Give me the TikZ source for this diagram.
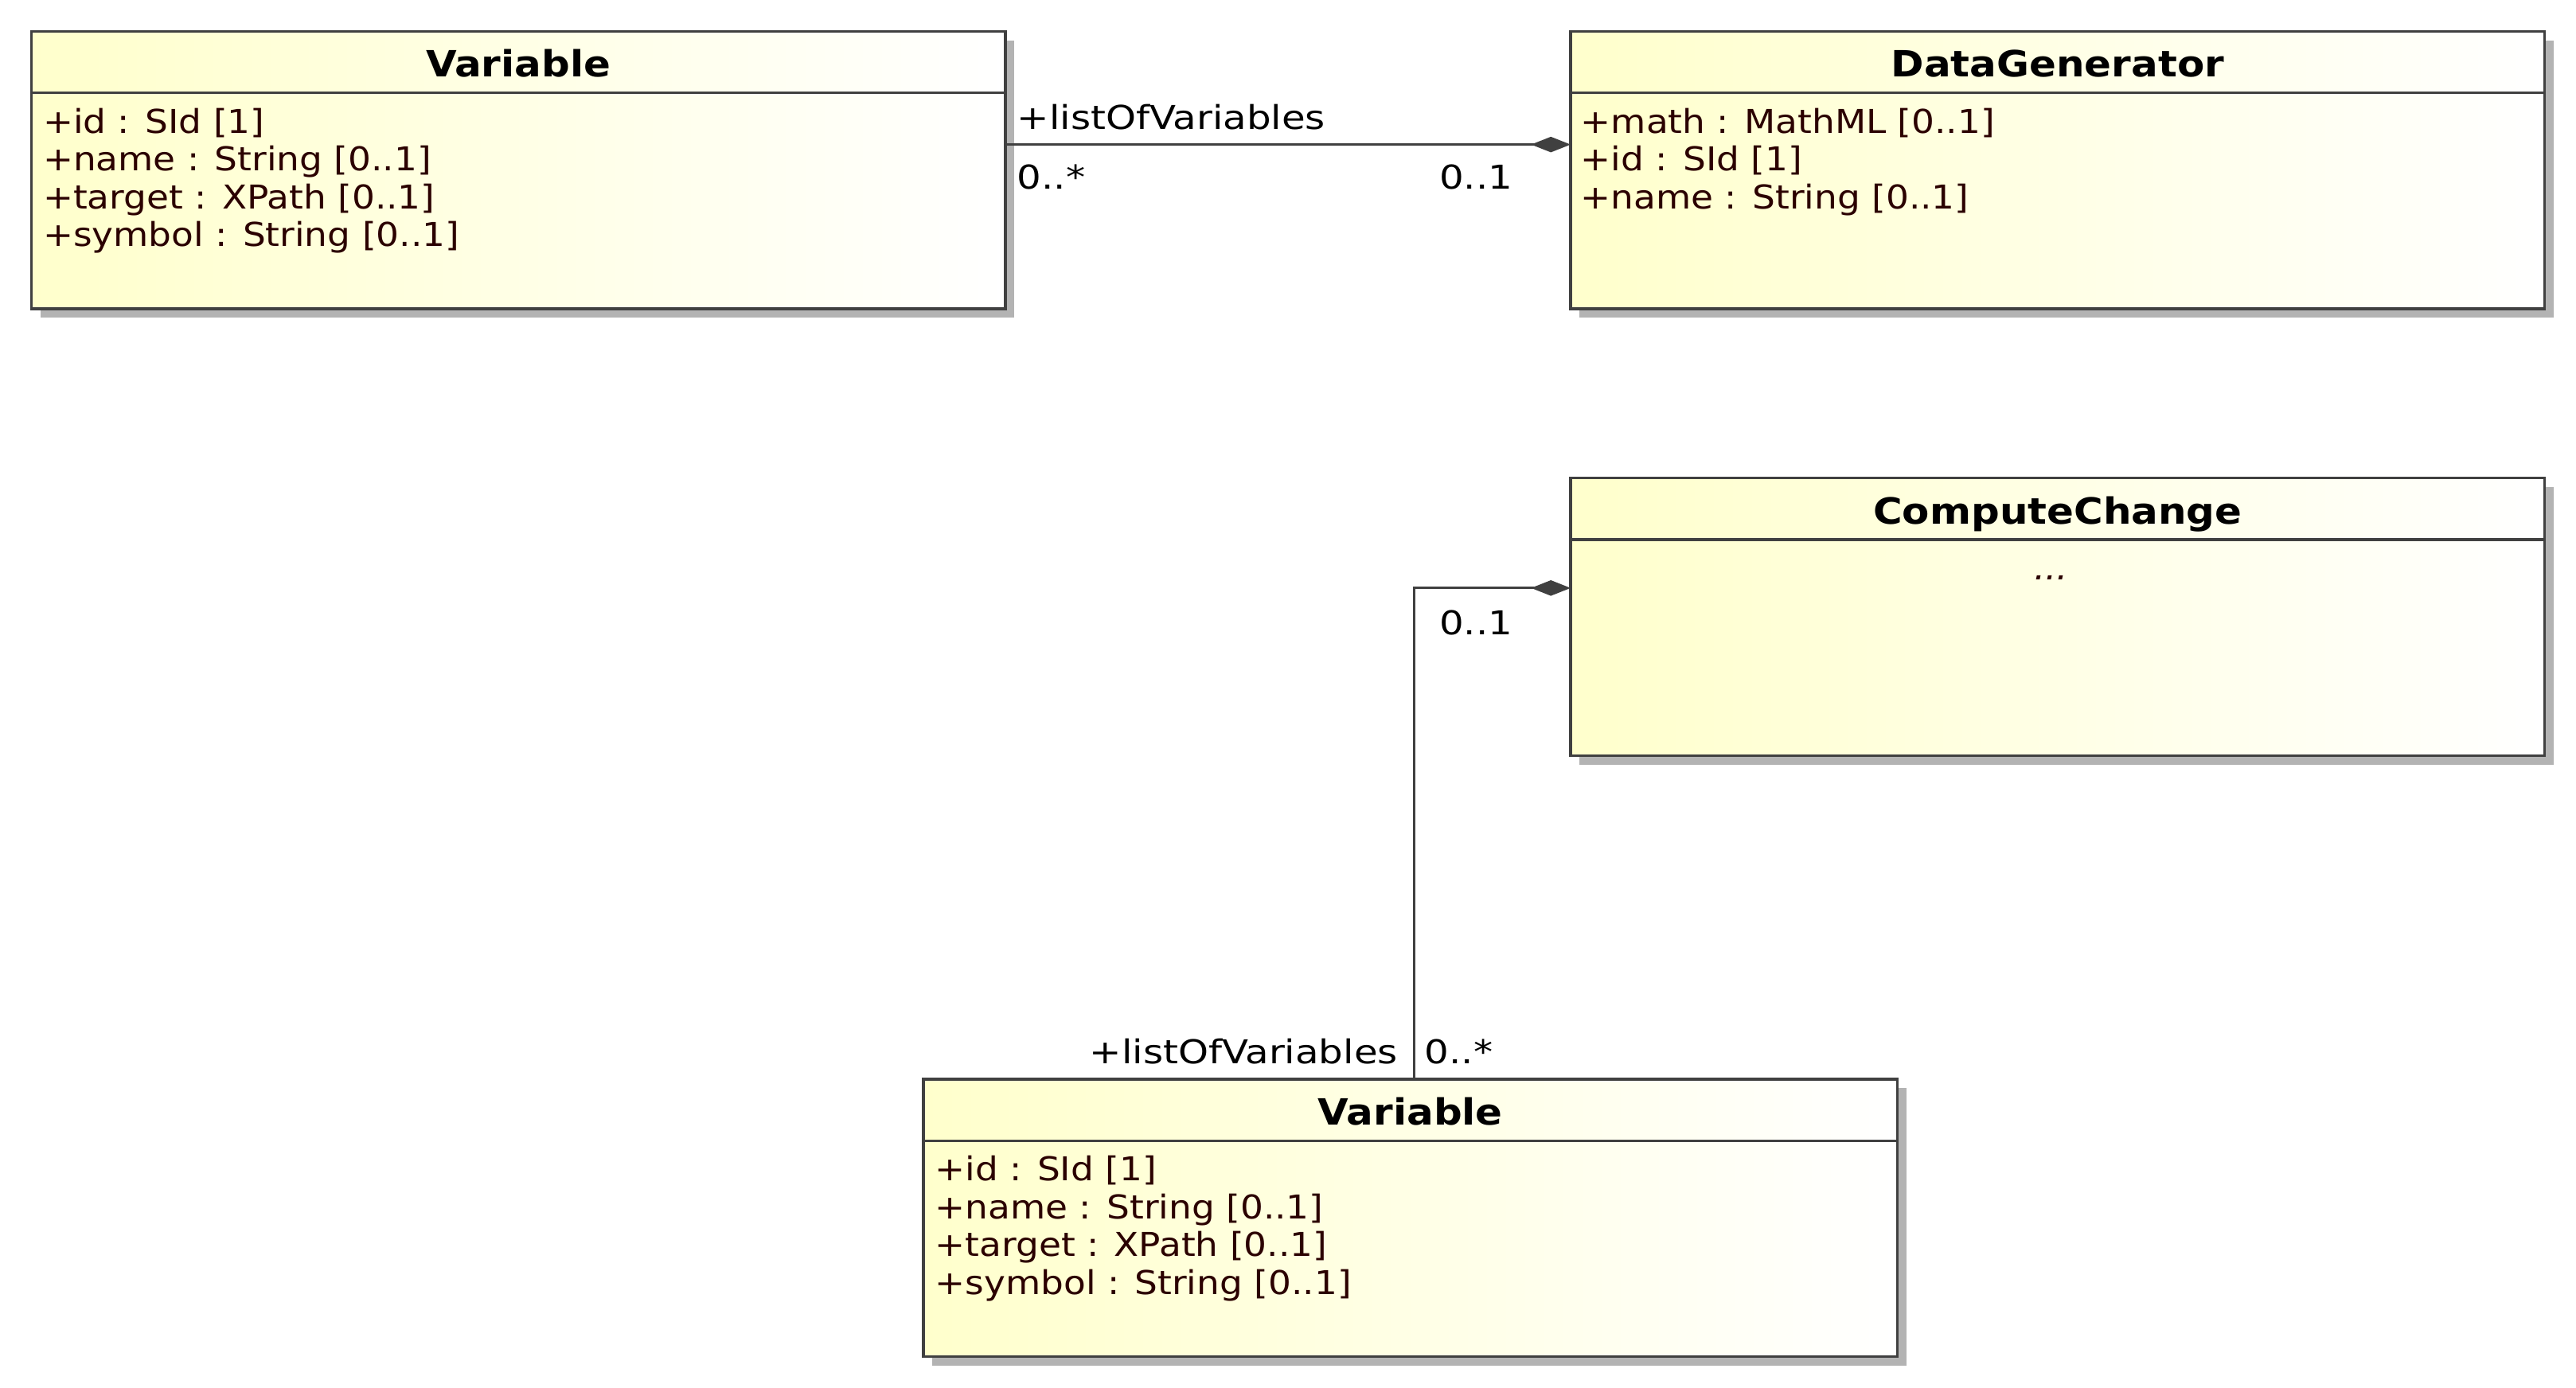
\documentclass[tikz,border=0pt]{standalone}
\usepackage{fontspec}
\usetikzlibrary{arrows.meta,shadows}

\newfontfamily\umlfont{DejaVu Sans}[FakeStretch=1.1]
\newfontfamily\lblfont{DejaVu Sans}[FakeStretch=1.17]

\definecolor{umlline}{HTML}{404040}
\definecolor{umlyellow}{HTML}{FFFFCC}
\definecolor{umlshadow}{HTML}{B3B3B3}
\definecolor{umlattr}{HTML}{2B0000}

\tikzset{
    classbox/.style={draw=umlline, line width=1.6pt, left color=umlyellow, right color=white,
        minimum width=593pt, minimum height=169pt, inner sep=0pt, outer sep=0pt,
        general shadow={fill=umlshadow, shadow xshift=5.5pt, shadow yshift=-5.5pt}},
    divider/.style={draw=umlline, line width=1.6pt},
    classtitle/.style={font=\umlfont\bfseries\fontsize{22}{26}\selectfont, anchor=base, inner sep=0pt},
    attr/.style={font=\umlfont\fontsize{20}{23}\selectfont, text=umlattr, anchor=base west, inner sep=0pt},
    rolelbl/.style={font=\lblfont\fontsize{20}{23}\selectfont, inner sep=0pt},
    assoc/.style={draw=umlline, line width=1.4pt, -{Diamond[length=24pt,width=9.5pt]}}
}

\begin{document}
\begin{tikzpicture}[x=1pt,y=-1pt]
    \useasboundingbox (0,0) rectangle (1568,845);

    % Classes
    \node[classbox] (var1) at (315.5,103.5) {};
    \node[classbox] (datagen) at (1252.5,103.5) {};
    \node[classbox] (compchg) at (1252.5,375.5) {};
    \node[classbox] (var2) at (858.5,741.5) {};

    % Header lines and class names
    \foreach \cls/\name in {var1/Variable, datagen/DataGenerator, compchg/ComputeChange, var2/Variable} {
        \draw[divider] ([yshift=-37.5pt]\cls.north west) -- ([yshift=-37.5pt]\cls.north east);
        \node[classtitle] (\cls-title) at ([yshift=-28pt]\cls.north) {\name};
    }

    % Attributes
    \foreach \txt [count=\i] in {{+id : SId [1]}, {+name : String [0..1]}, {+target : XPath [0..1]}, {+symbol : String [0..1]}} {
        \node[attr] (var1-a\i) at ([xshift=7pt,yshift={-62pt-(\i-1)*23pt}]var1.north west) {\txt};
        \node[attr] (var2-a\i) at ([xshift=7pt,yshift={-62pt-(\i-1)*23pt}]var2.north west) {\txt};
    }
    \foreach \txt [count=\i] in {{+math : MathML [0..1]}, {+id : SId [1]}, {+name : String [0..1]}} {
        \node[attr] (datagen-a\i) at ([xshift=6pt,yshift={-62pt-(\i-1)*23pt}]datagen.north west) {\txt};
    }
    \node[attr, anchor=base] (compchg-a1) at ([xshift=-4pt,yshift=-62pt]compchg.north) {\textit{...}};

    % Variable -> DataGenerator
    \coordinate (c1s) at ([yshift=15.5pt]var1.east);
    \coordinate (c1e) at ([yshift=15.5pt]datagen.west);
    \draw[assoc] (c1s) -- (c1e);
    \node[rolelbl, anchor=base west] (c1role) at ([xshift=7pt,yshift=9.5pt]c1s) {+listOfVariables};
    \node[rolelbl, anchor=base west] (c1mult) at ([xshift=7pt,yshift=-27pt]c1s) {0..*};
    \node[rolelbl, anchor=base east] (c1own) at ([xshift=-35pt,yshift=-27pt]c1e) {0..1};

    % Variable -> ComputeChange
    \coordinate (c2s) at ([xshift=2.5pt]var2.north);
    \coordinate (c2e) at ([yshift=17.5pt]compchg.west);
    \draw[assoc] (c2s) |- (c2e);
    \node[rolelbl, anchor=base east] (c2own) at ([xshift=-35pt,yshift=-28.5pt]c2e) {0..1};
    \node[rolelbl, anchor=base east] (c2role) at ([xshift=-10pt,yshift=9.5pt]c2s) {+listOfVariables};
    \node[rolelbl, anchor=base west] (c2mult) at ([xshift=6pt,yshift=9.5pt]c2s) {0..*};
\end{tikzpicture}
\end{document}
